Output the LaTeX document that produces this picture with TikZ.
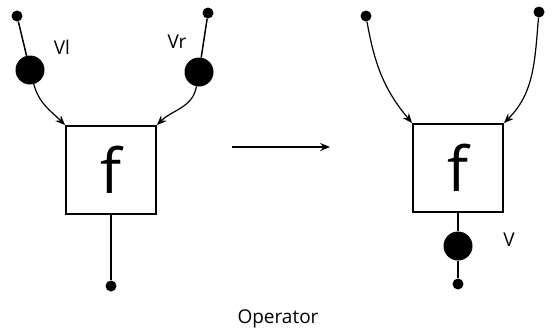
\documentclass[tikz,border=0pt]{standalone}
\usepackage{fontspec}
\setmainfont{Open Sans}
\usetikzlibrary{arrows.meta}
\begin{document}
\begin{tikzpicture}[x=1pt,y=-1pt,
  sdot/.style={circle,fill=black,inner sep=0pt,minimum size=11pt},
  bdot/.style={circle,fill=black,inner sep=0pt,minimum size=29pt},
  fbox/.style={draw,line width=1.8pt,minimum width=90pt,minimum height=88pt,inner sep=0pt,font=\fontsize{62}{62}\selectfont},
  wire/.style={line width=1.5pt},
  arr/.style={line width=1.2pt,-{Stealth[length=10pt,width=8pt,inset=3.5pt]}},
  lbl/.style={font=\fontsize{19}{22}\selectfont}]
\useasboundingbox (0,0) rectangle (552,333);
% left
\node[fbox] (fl) at (111,170) {f};
\node[sdot] (a1) at (17,16) {};
\node[bdot] (b1) at (30,70) {};
\node[sdot] (a2) at (208,13) {};
\node[bdot] (b2) at (199,72) {};
\node[lbl] (vl) at (62,47) {Vl};
\node[lbl] (vr) at (177,42) {Vr};
\node[sdot] (ol) at (111,286) {};
\draw[wire] (a1) -- (b1);
\draw[wire] (a2) -- (b2);
\draw[arr] (b1) to[out=-75,in=135] (fl.north west);
\draw[arr] (b2) to[out=-100,in=45] (fl.north east);
\draw[wire] (fl.south) -- (ol);
% middle arrow
\coordinate (m1) at (232,147);
\coordinate (m2) at (330,147);
\draw[arr] (m1) -- (m2);
% right
\node[fbox] (fr) at (458,168) {f};
\node[sdot] (c1) at (366,16) {};
\node[sdot] (c2) at (539,12) {};
\node[bdot] (vd) at (458,246) {};
\node[sdot] (or) at (458,284) {};
\node[lbl] (vv) at (509,240) {V};
\draw[arr] (c1) to[out=-80,in=130] (fr.north west);
\draw[arr] (c2) to[out=-95,in=45] (fr.north east);
\draw[wire] (fr.south) -- (vd) -- (or);
\node[lbl] (op) at (278,319) {Operator};
\end{tikzpicture}
\end{document}
